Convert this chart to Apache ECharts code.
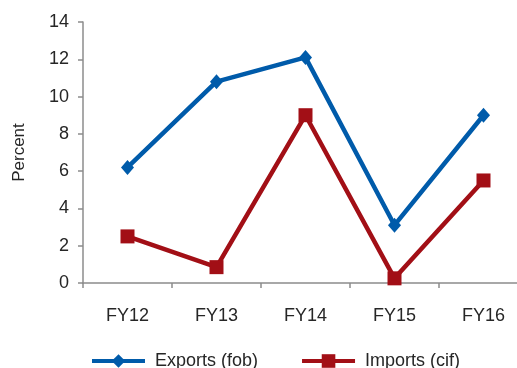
<!DOCTYPE html>
<html><head><meta charset="utf-8">
<script src="https://cdn.jsdelivr.net/npm/echarts@6/dist/echarts.min.js"></script>
<style>html,body{margin:0;padding:0;background:#fff;overflow:hidden}#c{width:528px;height:368px}</style>
</head><body><div id="c"></div>
<script>
const categories = ['FY12','FY13','FY14','FY15','FY16'];
const exportsFob = [6.2, 10.8, 12.1, 3.1, 9.0];
const importsCif = [2.5, 0.85, 9.0, 0.25, 5.5];
const yTicks = {min: 0, max: 14, interval: 2};
const seriesNames = ['Exports (fob)', 'Imports (cif)'];

const font = 'Liberation Sans, Arial, sans-serif';
const axisGray = '#8c8c8c';
const chart = echarts.init(document.getElementById('c'), null, {renderer: 'canvas'});
chart.setOption({
  animation: false,
  textStyle: {fontFamily: font},
  grid: {left: 83, top: 22, width: 445, height: 261, containLabel: false},
  legend: {
    left: 90, top: 352, padding: 0, itemGap: 42, itemWidth: 53, itemHeight: 17,
    lineStyle: {width: 4},
    textStyle: {fontFamily: font, fontSize: 18, color: '#262626', padding: [0,0,0,5]},
    data: seriesNames
  },
  xAxis: {
    type: 'category', data: categories, boundaryGap: true,
    axisLine: {lineStyle: {color: axisGray, width: 1.5}},
    axisTick: {show: true, length: 5, lineStyle: {color: axisGray, width: 1.5}},
    axisLabel: {fontFamily: font, fontSize: 18, color: '#262626', margin: 24}
  },
  yAxis: {
    type: 'value', min: yTicks.min, max: yTicks.max, interval: yTicks.interval,
    name: 'Percent', nameLocation: 'middle', nameGap: 55, nameRotate: 90,
    nameTextStyle: {fontFamily: font, fontSize: 17, color: '#262626'},
    axisLine: {show: true, lineStyle: {color: axisGray, width: 1.5}},
    axisTick: {show: true, length: 5, lineStyle: {color: axisGray, width: 1.5}},
    splitLine: {show: false},
    axisLabel: {fontFamily: font, fontSize: 18, color: '#262626', margin: 14}
  },
  series: [
    {name: seriesNames[0], type: 'line', data: exportsFob, symbol: 'diamond', symbolSize: [13,15],
     lineStyle: {color: '#005BAA', width: 4.5}, itemStyle: {color: '#005BAA'}},
    {name: seriesNames[1], type: 'line', data: importsCif, symbol: 'rect', symbolSize: 14,
     lineStyle: {color: '#A20F16', width: 4.5}, itemStyle: {color: '#A20F16'}}
  ]
});
</script></body></html>
